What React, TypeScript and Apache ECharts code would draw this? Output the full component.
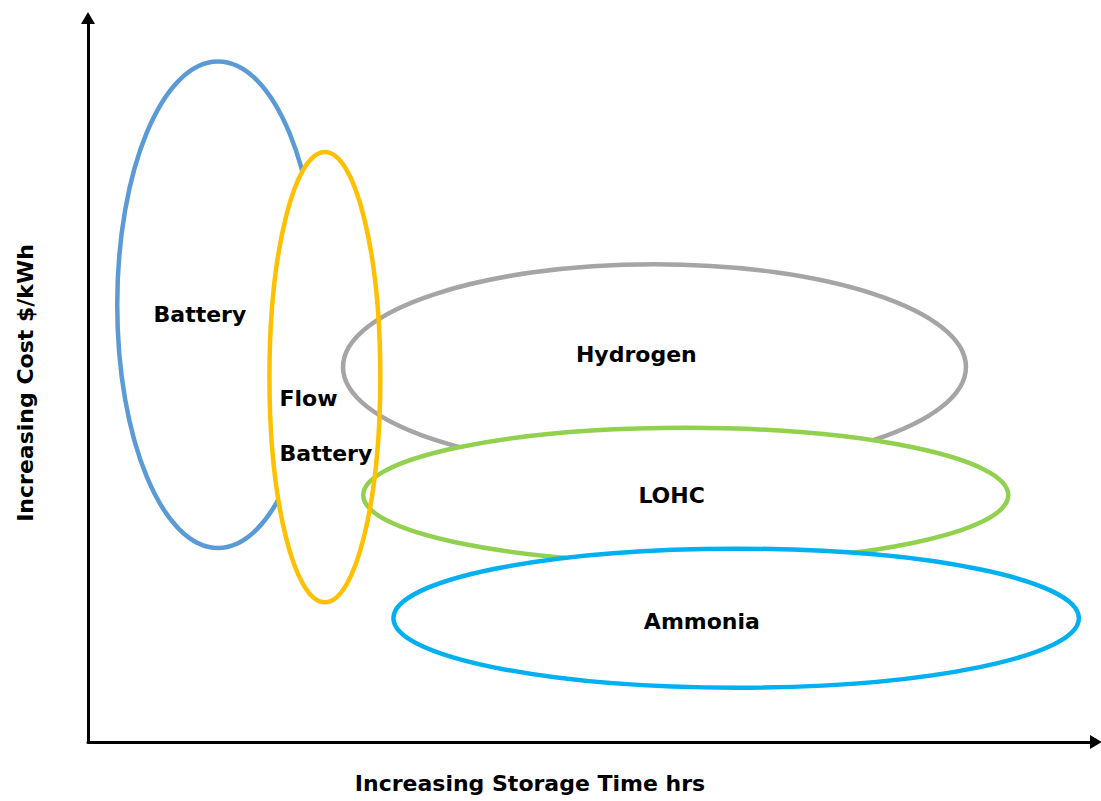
import React, { useEffect, useRef } from "react";
import * as echarts from "echarts";

// Conceptual positions of each storage technology (data units on 0–100 axes)
const technologies = ["Battery", "Flow Battery", "Hydrogen", "LOHC", "Ammonia"];
const centerX = [12.9, 23.5, 56.2, 59.3, 64.3];
const centerY = [60.4, 50.4, 51.8, 34.1, 17.1];
const radiusX = [10.0, 5.5, 30.9, 32.0, 34.0];
const radiusY = [33.6, 31.1, 14.2, 9.3, 9.6];
const colors = ["#5B9BD5", "#FFC000", "#A5A5A5", "#92D050", "#00B0F0"];

// Text labels placed inside the ellipses
const labelTexts = ["Battery", "Flow", "Battery", "Hydrogen", "LOHC", "Ammonia"];
const labelX = [11.1, 19.0, 19.0, 54.4, 57.9, 60.9];
const labelY = [59.1, 47.5, 39.9, 53.5, 34.1, 16.7];
const labelAlign = ["center", "left", "left", "center", "center", "center"];

const xAxisTitle = "Increasing Storage Time hrs";
const yAxisTitle = "Increasing Cost $/kWh";

const FONT = "DejaVu Sans";

// drawing passes: [technology index, filled white, outlined]
const passes: [number, number, number][] = [
  [0, 0, 1],
  [1, 1, 0],
  [2, 0, 1],
  [3, 1, 1],
  [4, 1, 1],
  [1, 0, 1],
];

export default function App() {
  const ref = useRef<HTMLDivElement>(null);
  useEffect(() => {
    if (!ref.current) return;
    const chart = echarts.init(ref.current, null, { renderer: "svg" });
    const ellipseData = passes.map(([i, f, s]) => [
      centerX[i],
      centerY[i],
      radiusX[i],
      radiusY[i],
      i,
      f,
      s,
    ]);
    const labelData = labelTexts.map((_, i) => [labelX[i], labelY[i], i]);
    const nameStyle = {
      fontFamily: FONT,
      fontWeight: "bold" as const,
      fontSize: 22,
      color: "#000",
    };
    chart.setOption({
      animation: false,
      backgroundColor: "#fff",
      grid: { left: 88, right: 5, top: 18, bottom: 59 },
      xAxis: {
        type: "value",
        min: 0,
        max: 100,
        name: xAxisTitle,
        nameLocation: "middle",
        nameGap: 30,
        nameTextStyle: { ...nameStyle, padding: [0, 124, 0, 0] },
        axisLine: {
          show: true,
          symbol: ["none", "triangle"],
          symbolSize: [14, 12],
          lineStyle: { color: "#000", width: 3 },
        },
        axisTick: { show: false },
        axisLabel: { show: false },
        splitLine: { show: false },
      },
      yAxis: {
        type: "value",
        min: 0,
        max: 100,
        name: yAxisTitle,
        nameLocation: "middle",
        nameGap: 52,
        nameTextStyle: { ...nameStyle, padding: [0, 6, 0, 0] },
        axisLine: {
          show: true,
          symbol: ["none", "triangle"],
          symbolSize: [14, 12],
          lineStyle: { color: "#000", width: 3 },
        },
        axisTick: { show: false },
        axisLabel: { show: false },
        splitLine: { show: false },
      },
      series: [
        {
          type: "custom",
          name: "ellipses",
          data: ellipseData,
          encode: { x: 0, y: 1 },
          renderItem: (params: any, api: any) => {
            const c = api.coord([api.value(0), api.value(1)]);
            const sz = api.size([api.value(2), api.value(3)]);
            const idx = api.value(4);
            const filled = api.value(5) === 1;
            const stroked = api.value(6) === 1;
            return {
              type: "ellipse",
              shape: { cx: c[0], cy: c[1], rx: sz[0], ry: sz[1] },
              style: {
                fill: filled ? "#ffffff" : "none",
                stroke: stroked ? colors[idx] : "none",
                lineWidth: 4.5,
              },
            };
          },
        },
        {
          type: "custom",
          name: "labels",
          data: labelData,
          encode: { x: 0, y: 1 },
          z: 5,
          renderItem: (params: any, api: any) => {
            const c = api.coord([api.value(0), api.value(1)]);
            const i = api.value(2);
            return {
              type: "text",
              x: c[0],
              y: c[1],
              style: {
                text: labelTexts[i],
                fill: "#000",
                fontFamily: FONT,
                fontWeight: "bold",
                fontSize: 22,
                align: labelAlign[i],
                verticalAlign: "middle",
              },
            };
          },
        },
      ],
    });
    return () => chart.dispose();
  }, []);
  return (
    <div
      ref={ref}
      style={{ position: "fixed", left: 0, top: 0, width: 1101, height: 801 }}
    />
  );
}
